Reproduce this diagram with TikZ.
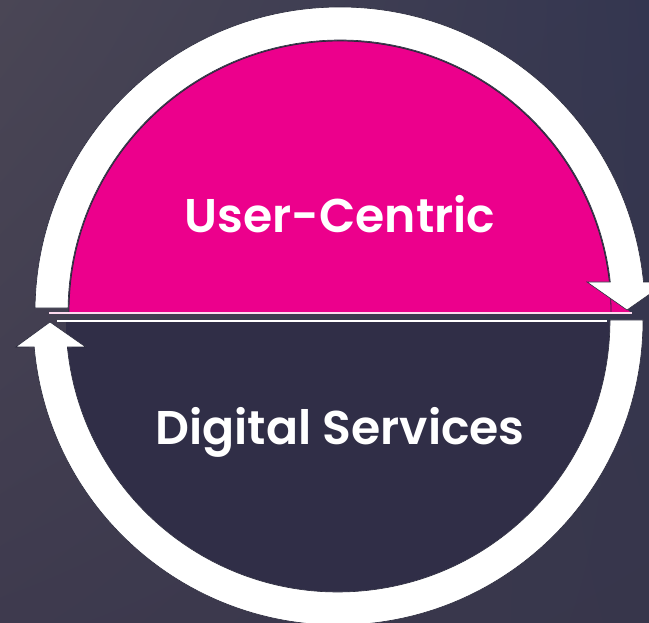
\documentclass[tikz,border=0pt]{standalone}
\usepackage{fontspec}
\setmainfont{Poppins}[BoldFont={Poppins SemiBold}]
\usetikzlibrary{shadings}
\definecolor{bgUL}{HTML}{4A4655}
\definecolor{bgUR}{HTML}{343650}
\definecolor{bgLL}{HTML}{3E3A4E}
\definecolor{bgLR}{HTML}{37364B}
\definecolor{mag}{HTML}{EC008C}
\definecolor{darkfill}{HTML}{302E47}
\definecolor{edgecol}{HTML}{2A2A3C}
\tikzset{
  ringstyle/.style={fill=white, draw=edgecol, line width=0.6},
  labeltxt/.style={text=white, font=\bfseries\fontsize{47.5}{55}\selectfont, inner sep=0pt},
}
\begin{document}
\begin{tikzpicture}[x=1bp,y=1bp]
\useasboundingbox (0,0) rectangle (649,623);
\shade[upper left=bgUL, upper right=bgUR, lower left=bgLL, lower right=bgLR] (0,0) rectangle (649,623);
\begin{scope}
\clip (0,0) rectangle (649,623);
% lower dark half disc
\begin{scope}[shift={(338,301)}]
  \fill[darkfill] (-272,0) arc[start angle=180, end angle=360, radius=272] -- cycle;
\end{scope}
% upper magenta half disc
\begin{scope}[shift={(340,311)}]
  \fill[mag] (-271,0) arc[start angle=180, end angle=0, radius=271] -- cycle;
  \fill[mag] (255,0) -- (290,0) -- (255,30) -- cycle;
  \draw[edgecol, line width=0.8] (-271,0) arc[start angle=180, end angle=0, radius=271];
  % upper ring with arrowhead pointing down on the right
  \path[ringstyle] (179.25:305) arc[start angle=179.25, end angle=5.64, radius=305]
     -- (327,30) -- (287,2) -- (247,30) -- (6.34:272)
     arc[start angle=6.34, end angle=179.16, radius=272] -- cycle;
\end{scope}
% lower ring with arrowhead pointing up on the left
\begin{scope}[shift={(338,303)}]
  \path[ringstyle] (0:305) arc[start angle=0, end angle=-174.92, radius=305]
     -- (-322.3,-27) -- (-288,-2) -- (-252.3,-27) -- (-174.3:272)
     arc[start angle=-174.3, end angle=0, radius=272] -- cycle;
\end{scope}
% separating lines
\draw[white!85!mag, line width=1.8] (49,310.2) -- (632,310.2);
\draw[white, line width=1.5] (57,301.8) -- (607,301.8);
\end{scope}
\node[labeltxt, anchor=base] (uc) at (340,390) {User-Centric};
\node[labeltxt, anchor=base] (ds) at (340,178) {Digital Services};
\end{tikzpicture}
\end{document}
